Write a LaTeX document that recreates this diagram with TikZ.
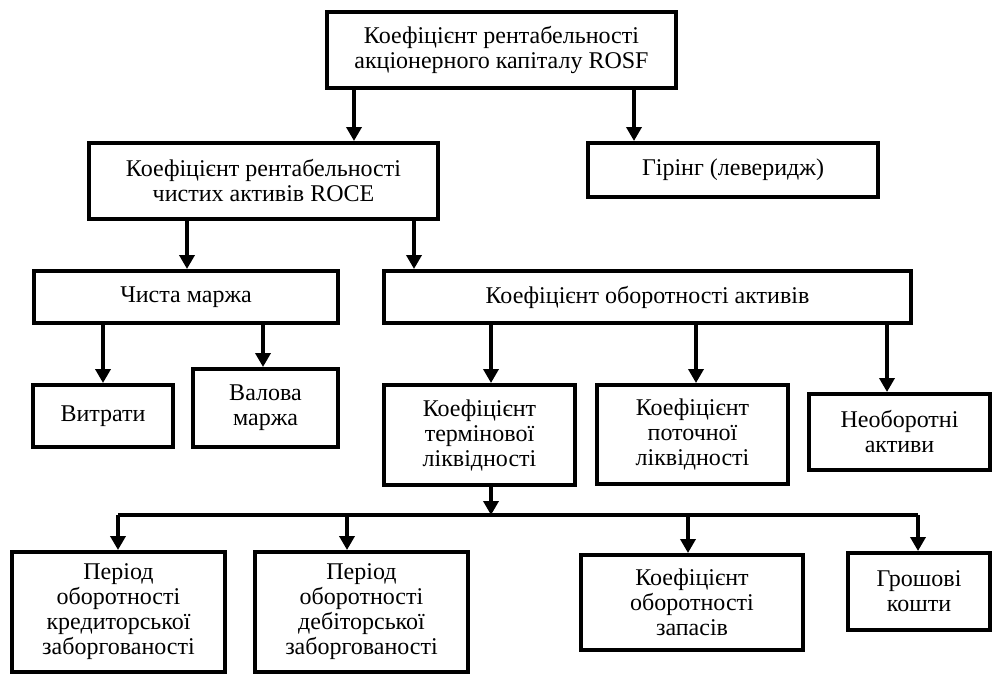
\documentclass[tikz,border=0pt]{standalone}
\usepackage{fontspec}
\setmainfont{Liberation Serif}
\usetikzlibrary{arrows.meta}
\tikzset{
  box/.style={draw=black, line width=4pt, rectangle, inner sep=0pt, align=center,
    font=\fontsize{24}{25}\selectfont},
  arr/.style={line width=4pt, -{Triangle[length=14pt,width=15pt]}},
  bar/.style={line width=4pt, line join=miter}
}
\begin{document}
\begin{tikzpicture}[x=1pt,y=-1pt]
\useasboundingbox (0,0) rectangle (992,675);
\fill[white] (0,0) rectangle (992,675);
\node[box, minimum width=349pt, minimum height=76pt] (top) at (501.5,50) {Коефіцієнт рентабельності\\акціонерного капіталу ROSF};
\node[box, minimum width=349pt, minimum height=76pt] (roce) at (263.5,181) {Коефіцієнт рентабельності\\чистих активів ROCE};
\node[box, minimum width=290pt, minimum height=54pt] (gir) at (733,170) {Гірінг (леверидж)};
\node[box, minimum width=304pt, minimum height=52pt] (chm) at (186,297) {Чиста маржа};
\node[box, minimum width=527pt, minimum height=52pt] (obor) at (647.5,297) {Коефіцієнт оборотності активів};
\node[box, minimum width=140pt, minimum height=62pt] (vyt) at (103,416) {Витрати};
\node[box, minimum width=145pt, minimum height=78pt] (val) at (265.5,408) {Валова\\маржа};
\node[box, minimum width=191pt, minimum height=100pt] (term) at (479.5,435) {Коефіцієнт\\термінової\\ліквідності};
\node[box, minimum width=191pt, minimum height=99pt] (pot) at (692.5,434.5) {Коефіцієнт\\поточної\\ліквідності};
\node[box, minimum width=181pt, minimum height=76pt] (neob) at (899.5,432) {Необоротні\\активи};
\node[box, minimum width=213pt, minimum height=120pt] (per1) at (118.5,612) {Період\\оборотності\\кредиторської\\заборгованості};
\node[box, minimum width=213pt, minimum height=120pt] (per2) at (361.5,612) {Період\\оборотності\\дебіторської\\заборгованості};
\node[box, minimum width=222pt, minimum height=95pt] (zap) at (692,602.5) {Коефіцієнт\\оборотності\\запасів};
\node[box, minimum width=142pt, minimum height=77pt] (hro) at (919,591.5) {Грошові\\кошти};
% x positions of connectors
\coordinate (xa) at (354,0);
\coordinate (xb) at (634,0);
\coordinate (xc) at (187,0);
\coordinate (xd) at (414,0);
\coordinate (xe) at (103,0);
\coordinate (xf) at (263,0);
\coordinate (xg) at (491,0);
\coordinate (xh) at (696,0);
\coordinate (xi) at (887,0);
\coordinate (barL) at (118,515);
\coordinate (barM) at (491,515);
\coordinate (barR) at (918,515);
\coordinate (xj) at (347,0);
\coordinate (xk) at (688,0);
\draw[arr] (top.south -| xa) -- (roce.north -| xa);
\draw[arr] (top.south -| xb) -- (gir.north -| xb);
\draw[arr] (roce.south -| xc) -- (chm.north -| xc);
\draw[arr] (roce.south -| xd) -- (obor.north -| xd);
\draw[arr] (chm.south -| xe) -- (vyt.north -| xe);
\draw[arr] (chm.south -| xf) -- (val.north -| xf);
\draw[arr] (obor.south -| xg) -- (term.north -| xg);
\draw[arr] (obor.south -| xh) -- (pot.north -| xh);
\draw[arr] (obor.south -| xi) -- (neob.north -| xi);
\draw[bar] (barM) -- (barL);
\draw[bar] (barM) -- (barR);
\draw[arr] (term.south -| xg) -- (barM);
\draw[arr] (barL) -- (per1.north -| barL);
\draw[arr] (barM -| xj) -- (per2.north -| xj);
\draw[arr] (barM -| xk) -- (zap.north -| xk);
\draw[arr] (barR) -- (hro.north -| barR);
\end{tikzpicture}
\end{document}
